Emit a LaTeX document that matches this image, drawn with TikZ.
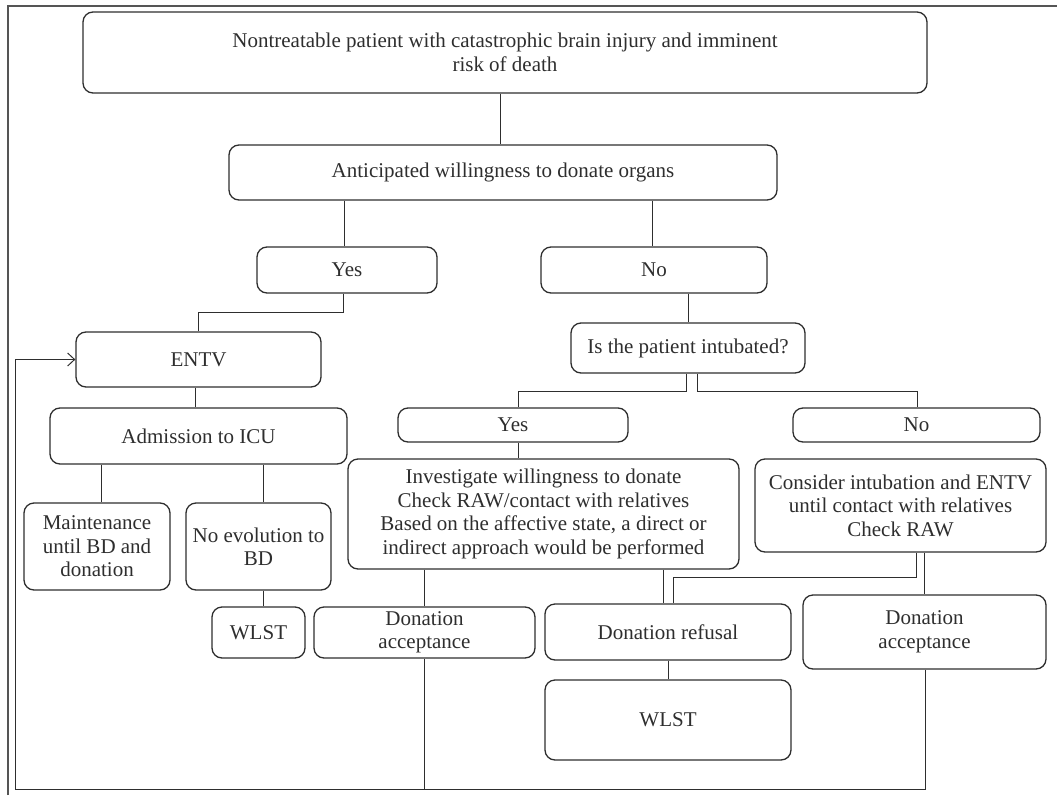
\documentclass[tikz,border=0pt]{standalone}
\usepackage{fontspec}
\setmainfont{Liberation Serif}
\usetikzlibrary{arrows.meta}
\definecolor{ink}{HTML}{2e2e2e}
\definecolor{framec}{HTML}{555555}
\begin{document}
\begin{tikzpicture}[x=1pt,y=-1pt,
  box/.style={draw=ink,line width=1.3pt,rounded corners=10pt,align=center,text=ink,
    font=\fontsize{21}{23.5}\selectfont,inner sep=0pt},
  conn/.style={draw=ink,line width=1pt},
  framel/.style={draw=framec,line width=1.6pt}]
\useasboundingbox (0,0) rectangle (1057,795);
% outer frame
\coordinate (f1) at (8,795);
\coordinate (f2) at (8,6);
\coordinate (f3) at (1057,6);
\draw[framel] (f1) -- (f2) -- (f3);
% nodes
\node[box,minimum width=844,minimum height=81] (top) at (505,52.5) {Nontreatable patient with catastrophic brain injury and imminent\\[1pt]risk of death};
\node[box,minimum width=548,minimum height=55] (antic) at (503,172.5) {Anticipated willingness to donate organs};
\node[box,minimum width=180,minimum height=46] (yes1) at (347,270) {Yes};
\node[box,minimum width=226,minimum height=46] (no1) at (654,270) {No};
\node[box,minimum width=245,minimum height=55] (entv) at (198.5,359.5) {ENTV};
\node[box,minimum width=297,minimum height=56] (adm) at (198.5,436) {Admission to ICU};
\node[box,minimum width=146,minimum height=87] (maint) at (97,546.5) {Maintenance\\until BD and\\donation};
\node[box,minimum width=145,minimum height=87] (noevo) at (258.5,546.5) {No evolution to\\BD};
\node[box,minimum width=93,minimum height=51] (wlsta) at (258.5,632.5) {WLST};
\node[box,minimum width=221,minimum height=51] (donacca) at (424.5,632.5) {Donation\\acceptance};
\node[box,minimum width=234,minimum height=50] (intub) at (688,348) {Is the patient intubated?};
\node[box,minimum width=230,minimum height=34] (yes2) at (513,425) {Yes};
\node[box,minimum width=247,minimum height=34] (no2) at (916.5,425) {No};
\node[box,minimum width=391,minimum height=110] (inv) at (543.5,514) {Investigate willingness to donate\\Check RAW/contact with relatives\\Based on the affective state, a direct or\\indirect approach would be performed};
\node[box,minimum width=291,minimum height=93] (cons) at (900.5,505.5) {Consider intubation and ENTV\\until contact with relatives\\Check RAW};
\node[box,minimum width=246,minimum height=56] (donref) at (668,632) {Donation refusal};
\node[box,minimum width=246,minimum height=80] (wlstb) at (668,720) {WLST};
\node[box,minimum width=243,minimum height=74] (donaccb) at (924.5,632) {Donation\\acceptance};
% connectors
\draw[conn] (top.south -| 500,0) -- (antic.north -| 500,0);
\draw[conn] (antic.south -| 344,0) -- (yes1.north -| 344,0);
\draw[conn] (antic.south -| 652,0) -- (no1.north -| 652,0);
\draw[conn] (yes1.south -| 343,0) -- (343,312) -- (198,312) -- (entv.north -| 198,0);
\draw[conn] (entv.south -| 195,0) -- (adm.north -| 195,0);
\draw[conn] (adm.south -| 101,0) -- (maint.north -| 101,0);
\draw[conn] (adm.south -| 263,0) -- (noevo.north -| 263,0);
\draw[conn] (noevo.south -| 263,0) -- (wlsta.north -| 263,0);
\draw[conn] (no1.south -| 688,0) -- (intub.north -| 688,0);
\draw[conn] (intub.south -| 686,0) -- (686,391) -- (518,391) -- (yes2.north -| 518,0);
\draw[conn] (intub.south -| 697,0) -- (697,391) -- (917,391) -- (no2.north -| 917,0);
\draw[conn] (yes2.south -| 518,0) -- (inv.north -| 518,0);
\draw[conn] (inv.south -| 424,0) -- (donacca.north -| 424,0);
\draw[conn] (inv.south -| 663,0) -- (donref.north -| 663,0);
\draw[conn] (cons.south -| 916,0) -- (916,577) -- (673,577) -- (donref.north -| 673,0);
\draw[conn] (cons.south -| 924,0) -- (donaccb.north -| 924,0);
\draw[conn] (donref.south) -- (wlstb.north);
\coordinate (loopa) at (424,789);
\coordinate (loopb) at (15,789);
\coordinate (loopc) at (15,359.5);
\draw[conn,-{Straight Barb[length=7pt,width=13pt]}] (donacca.south -| 424,0) -- (loopa) -- (loopb) -- (loopc) -- (entv.west);
\draw[conn] (donaccb.south -| 925,0) -- (925,789) -- (loopa);
\end{tikzpicture}
\end{document}
